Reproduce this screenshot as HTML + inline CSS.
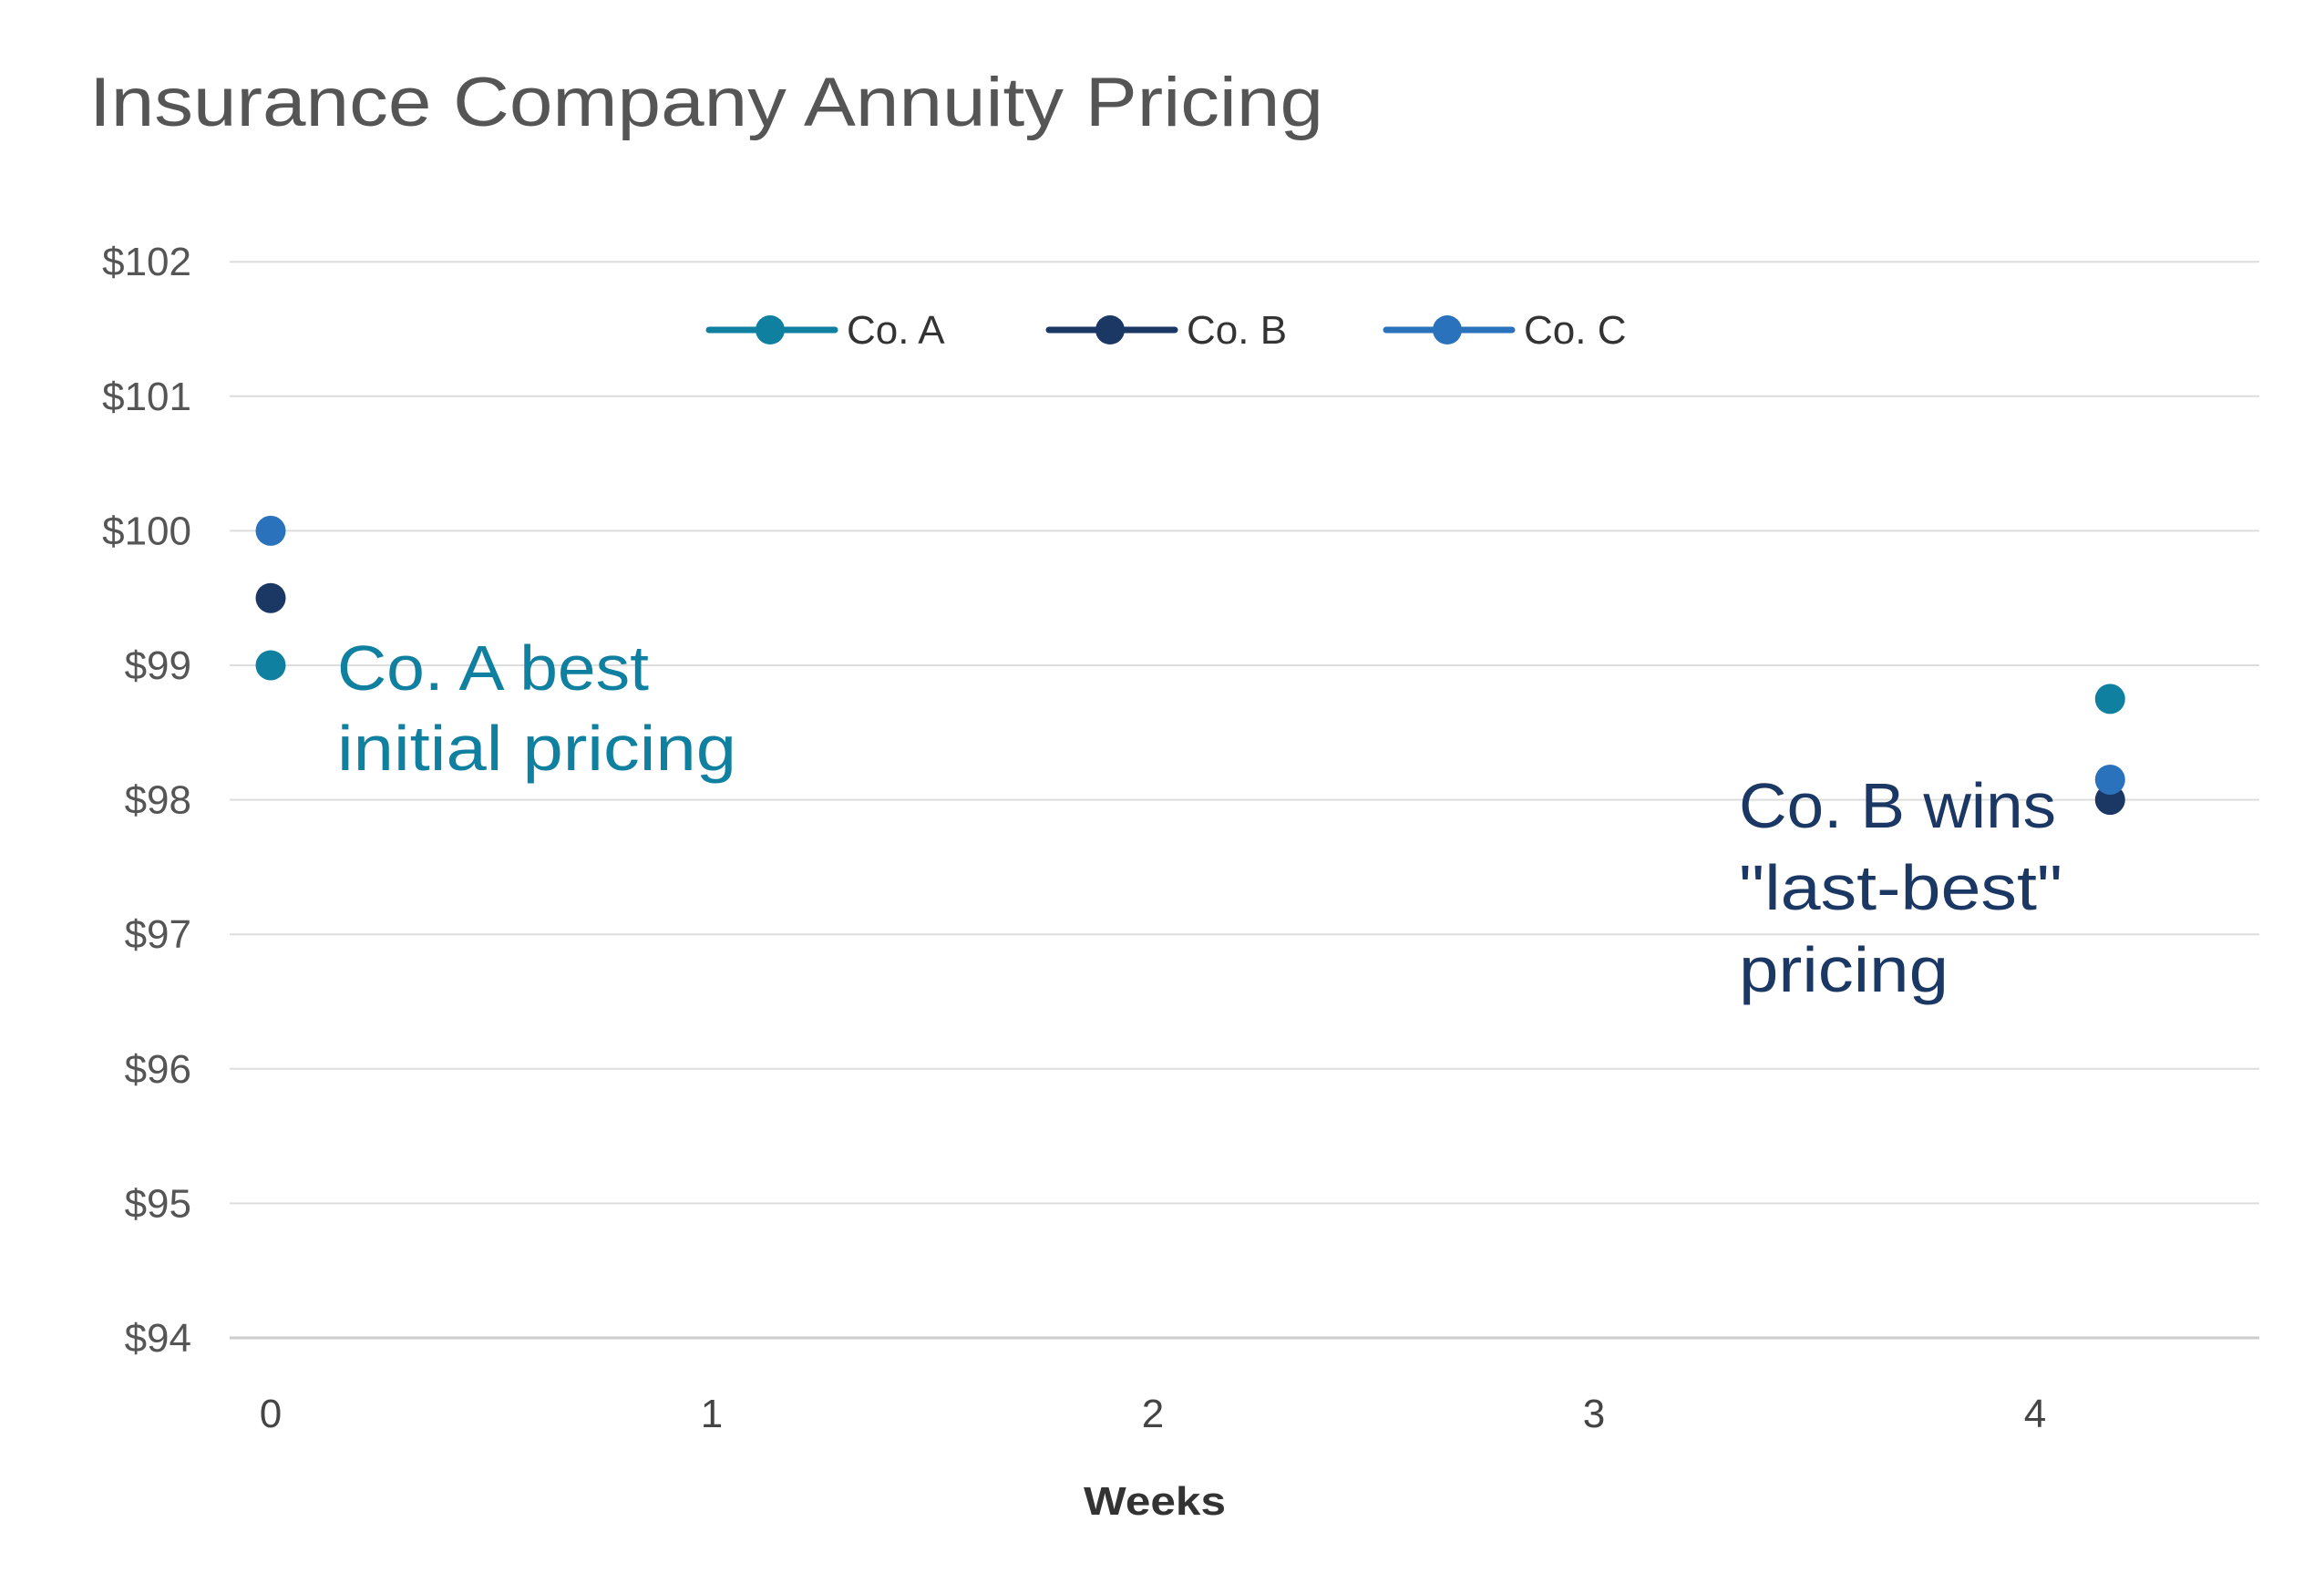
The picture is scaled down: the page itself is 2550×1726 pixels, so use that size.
<!DOCTYPE html>
<html><head><meta charset="utf-8"><style>
html,body{margin:0;padding:0;background:#fff;}
svg{display:block;font-family:"Liberation Sans",sans-serif;}
</style></head><body>
<svg id="chart" width="2550" height="1726" viewBox="0 0 2550 1726">
<rect width="2550" height="1726" fill="#fff"/>
<text x="98" y="138" font-size="76" fill="#555" textLength="1354" lengthAdjust="spacingAndGlyphs">Insurance Company Annuity Pricing</text>
<g id="grid"></g><g id="yticks"></g><g id="xticks"></g>
<text x="1267" y="1662" font-size="44" font-weight="bold" fill="#333" text-anchor="middle" textLength="156" lengthAdjust="spacingAndGlyphs">Weeks</text>
<g id="legend"></g>
<g id="points"></g>
<text font-size="70" fill="#0f80a0">
<tspan x="370" y="757" textLength="342" lengthAdjust="spacingAndGlyphs">Co. A best</tspan>
<tspan x="370" y="845" textLength="438" lengthAdjust="spacingAndGlyphs">initial pricing</tspan></text>
<text font-size="70" fill="#1b3764">
<tspan x="1908" y="908" textLength="348" lengthAdjust="spacingAndGlyphs">Co. B wins</tspan>
<tspan x="1908" y="998" textLength="355" lengthAdjust="spacingAndGlyphs">"last-best"</tspan>
<tspan x="1908" y="1088" textLength="230" lengthAdjust="spacingAndGlyphs">pricing</tspan></text>
</svg>
<script>
const yTicks=[94,95,96,97,98,99,100,101,102];
const yTickLabels=["$94","$95","$96","$97","$98","$99","$100","$101","$102"];
const xTicks=[0,1,2,3,4];
const xTickLabels=["0","1","2","3","4"];
const seriesNames=["Co. A","Co. B","Co. C"];
const seriesColors=["#0f80a0","#1b3764","#2a72bb"];
const weeks=[0,4.17];
const coA=[99,98.75];
const coB=[99.5,98.0];
const coC=[100,98.15];
const NS="http://www.w3.org/2000/svg";
function yS(v){return 1468-(v-94)*147.6;}
function xS(w){return 297+w*484;}
function mk(tag,attrs,parent){const e=document.createElementNS(NS,tag);for(const k in attrs)e.setAttribute(k,attrs[k]);parent.appendChild(e);return e;}
const grid=document.getElementById('grid'),yt=document.getElementById('yticks'),xt=document.getElementById('xticks');
yTicks.forEach((v,i)=>{
  const l=mk('line',{x1:252,x2:2479,y1:yS(v),y2:yS(v),stroke:i==0?'#ccc':'#ddd','stroke-width':i==0?3:2},grid);
  
  
  const t=mk('text',{x:210,y:yS(v)+15,'font-size':44,fill:'#555','text-anchor':'end'},yt);
  t.textContent=yTickLabels[i];
  
  
});
xTicks.forEach((v,i)=>{
  const t=mk('text',{x:xS(v),y:1566,'font-size':44,fill:'#444','text-anchor':'middle'},xt);
  t.textContent=xTickLabels[i];
  
  
});
const lg=document.getElementById('legend');
const lx=[778,1151,1521];
seriesNames.forEach((n,i)=>{
  const g=mk('g',{},lg);
  
  
  mk('line',{x1:lx[i],x2:lx[i]+138,y1:362,y2:362,stroke:seriesColors[i],'stroke-width':7,'stroke-linecap':'round'},g);
  mk('circle',{cx:lx[i]+67,cy:362,r:16,fill:seriesColors[i]},g);
  const t=mk('text',{x:lx[i]+151,y:377,'font-size':44,fill:'#333'},g);
  t.textContent=n;
});
const pts=document.getElementById('points');
[coA,coB,coC].forEach((s,si)=>{
  s.forEach((v,j)=>{
    const c=mk('circle',{cx:xS(weeks[j]),cy:yS(v),r:16.5,fill:seriesColors[si]},pts);
    
    
  });
});
</script>
</body></html>
